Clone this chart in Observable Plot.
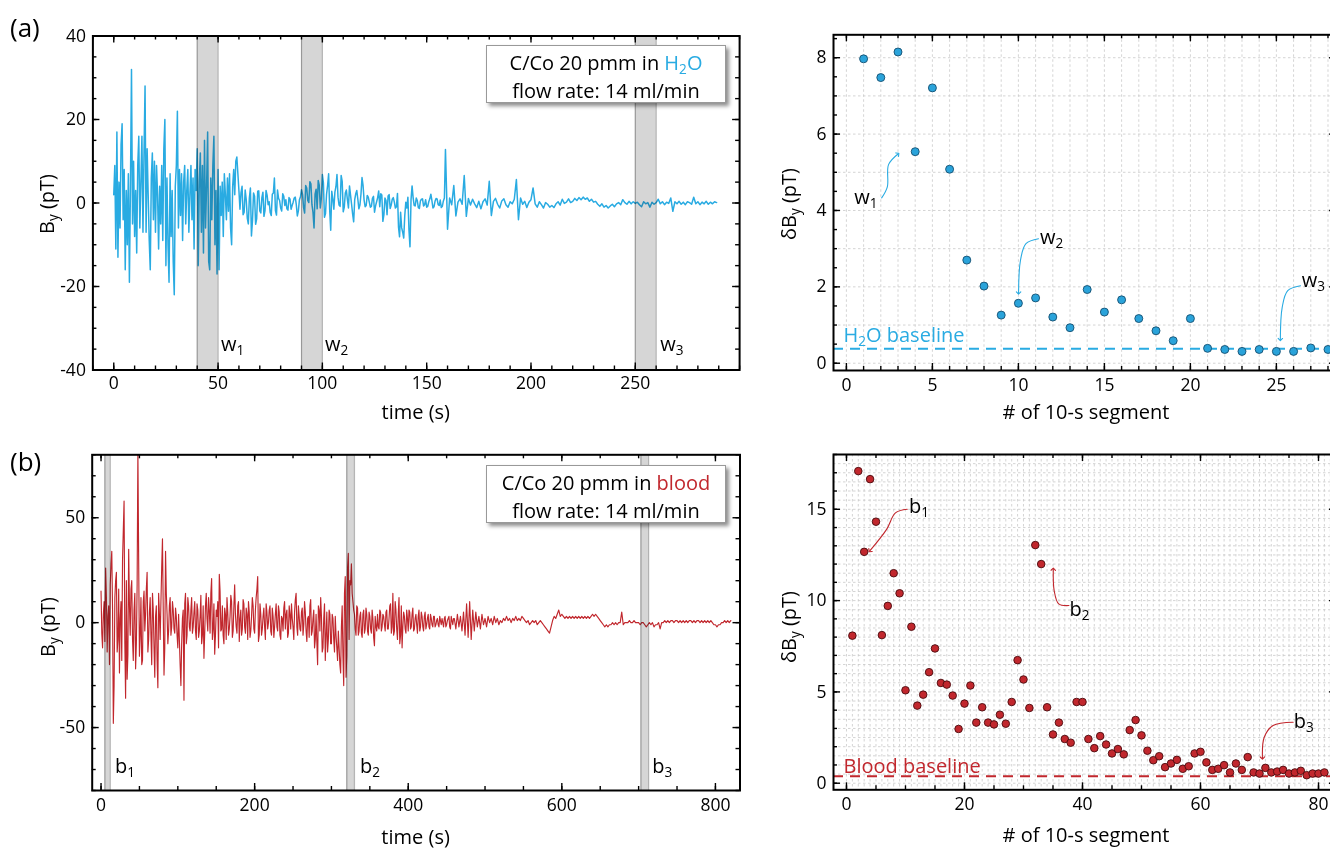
<!DOCTYPE html>
<html><head><meta charset="utf-8">
<script src="https://cdn.jsdelivr.net/npm/d3@7"></script>
<script src="https://cdn.jsdelivr.net/npm/@observablehq/plot@0.6"></script>
<style>
html,body{margin:0;padding:0;background:#fff;overflow:hidden;}
#root{position:relative;width:1330px;height:848px;overflow:hidden;font-family:"Open Sans",sans-serif;color:#000;}
.abs{position:absolute;white-space:nowrap;}
sub{font-size:0.68em;vertical-align:-0.3em;line-height:0;}
.legend{position:absolute;background:#fff;border:1px solid #999;box-shadow:3px 3px 4px rgba(0,0,0,0.45);text-align:center;font-size:20px;box-sizing:border-box;}
</style></head><body>
<div id="root"></div>
<script>
// ---------------- DATA ----------------
// (a) H2O time series: 0–60 s sampled every 0.5 s (pT)
const h2oEarly = [
  2, 9, -11, 17, -13, 5, -6, 14, 19, -4,
  8, -16, 3, -10, 7, -19, 4, 32, -5, 10,
  -8, 3, -12, 9, 16, -6, 5, 16, -7, 12,
  28, -7, 13, 2, -9, -16, 6, 12, -4, 10,
  -7, 9, 2, -11, 4, -5, 9, -9, 13, 20,
  -15, 6, -10, -19, 7, -8, 3, -14, -22, 4,
  9, 22, -6, 8, -3, 7, -9, 5, 9, -5,
  3, 8, -7, 2, 9, -4, 6, -11, 8, 3,
  13, -15, 5, 12, -7, 9, -12, 15, -6, 4,
  17, -14, -16, 6, -4, 9, 16, -10, 3, -17,
  8, -16, 4, -3, 5, -8, 7, 2, -4, 6,
  -2, 7, -6, -10, 4, 8, 2, 10, 11, 7,
  3
];
// (a) H2O time series: whole seconds 61–289 s (pT)
const h2oLate = [
  2.5, -2.8, 3.1, -3.6, 1.2, -7.9, 2.4, -5.1, 2.8, -1.9,
  1.3, -3.2, 3.0, -0.4, -2.3, 2.1, 6.0, -2.9, 1.1, -1.2,
  2.2, -0.6, -1.4, 1.3, -1.5, 0.2, 1.4, -3.1, 0.8, 3.2,
  -1.1, 4.2, 0.6, 5.1, -0.4, -6.0, 3.3, 5.4, -1.2, 6.8,
  -3.4, 2.1, 7.0, -6.5, 1.0, 2.6, 6.8, -0.5, 6.6, -2.1,
  2.4, 0.8, 4.1, -0.3, -4.5, 2.2, 0.9, -0.5, 6.1, 0.7,
  -0.6, 1.4, -1.0, 1.1, -2.2, 0.3, 2.9, 2.2, -4.4, 1.2,
  -2.8, 2.0, -0.5, 1.3, -1.2, 2.3, -8.1, -5.9, -8.4, 0.2,
  1.4, -10.5, 4.1, -0.6, 1.2, -1.1, 0.5, 1.0, -0.4, -1.0,
  0.3, 2.1, -1.2, 0.4, 1.0, -0.6, -1.1, 0.5, 12.8, -6.3,
  1.2, -0.4, 4.2, -3.1, 0.2, 1.0, -0.3, 6.6, -3.2, 1.1,
  -0.5, 0.9, -0.2, -1.1, 0.4, -1.4, 0.3, 1.0, -0.5, 5.2,
  -3.0, 0.4, 1.1, -0.3, -1.2, 0.5, 1.0, -0.4, -1.0, 0.3,
  -0.2, 0.9, 5.6, -4.0, 1.2, -0.3, 0.4, -1.1, 0.2, 0.8,
  3.6, -0.2, -1.0, 0.3, -0.4, -1.2, 0.1, -0.3, -1.0, -0.6,
  -1.1, -0.2, 0.3, -0.5, 0.9, -0.1, 0.2, 1.0, 0.1, 0.4,
  1.1, 0.6, 1.3, 0.8, 1.4, 0.9, 1.2, 0.4, 0.9, 0.2,
  0.4, -0.3, -0.8, -0.2, -1.0, -0.6, -1.2, -0.7, -0.3, -0.9,
  -0.2, 0.1, -0.4, 0.8, 0.1, -0.3, 0.4, -0.2, 0.3, -0.1,
  0.2, -0.4, -0.9, 0.3, -0.2, 0.1, -1.0, 0.2, -0.3, 0.1,
  0.9, -0.2, 0.3, -0.4, 0.2, -0.1, 1.2, -2.0, 0.3, -0.2,
  0.4, -0.3, 0.2, -0.4, 0.3, 0.1, -0.3, 1.4, -0.2, 0.3,
  -0.4, 0.2, -0.2, 0.4, -0.3, 0.2, -0.2, 0.3, 0.1
];
// (a) H2O time series: half seconds 60.5–159.5 s (pT)
const h2oMid = [
  -1.5, 4.0, -2.2, 0.8, -5.0, 3.6, -4.2, 1.6, -3.8, 2.9,
  -2.4, 2.6, -1.8, 1.9, 0.3, -3.0, 2.4, -1.8, 3.1, 0.6,
  -1.9, 1.6, 0.8, -1.7, 0.9, -0.6, 1.2, -0.4, -1.9, 1.5,
  2.0, -2.4, 3.6, 0.1, 4.6, -2.2, 2.1, -1.4, 4.3, 1.1,
  4.8, -2.5, 4.2, -1.6, 2.8, -1.5, 3.9, 1.4, -0.8, 5.2,
  -1.0, 3.1, -1.2, 1.9, -2.6, 0.8, 3.0, -1.4, 2.1, 4.2,
  -0.9, 1.8, 0.2, -0.8, 1.6, -0.7, 1.3, -0.9, 1.9, -2.8,
  0.6, 1.7, -1.3, 0.9, 0.2, -0.9, -5.8, -2.2, -7.0, -3.0,
  -1.2, -6.4, 0.8, 1.3, -0.7, 0.6, -1.3, 0.9, -0.7, 0.8,
  -0.8, 1.0, 0.6, -0.9, 1.1, -0.4, 0.7, -0.8, 1.2, 3.5
];
const h2oWindows = [[40, 50], [90, 100], [250, 260]];
const h2oWindowNames = ["1", "2", "3"];

// (a) right: δB_y per 10-s segment (pT)
const h2oDelta = [7.97, 7.48, 8.15, 5.54, 7.21, 5.08, 2.70, 2.02, 1.26, 1.57,
  1.71, 1.21, 0.93, 1.93, 1.34, 1.66, 1.17, 0.85, 0.59, 1.17,
  0.39, 0.36, 0.31, 0.36, 0.31, 0.31, 0.40, 0.36];
const h2oBaseline = 0.38;

// (b) blood time series, even seconds 0–820 s (pT)
const bloodValues = [
  15, -12, 10, 26, -14, 8, 18, 34, -48, 12,
  24, -8, -24, 10, 30, 58, -36, -27, 35, -6,
  20, -18, 14, -10, 82, -16, 12, -18, 15, 4,
  24, -8, 12, -20, 6, -26, 8, -31, 4, 10,
  40, -25, 34, 4, -4, 12, -2, 6, -5, 3,
  -12, -8, -30, 2, -37, 14, -6, 8, -4, 12,
  -2, 10, -8, 6, -4, 13, -6, -17, 8, 2,
  12, -5, 21, -3, -15, 6, 10, 23, -4, 8,
  -10, 4, 12, -6, 3, 10, -4, 18, -2, 8,
  -9, 6, -3, 9, -5, 4, 10, -7, 3, 8,
  -5, 12, 22, -6, 4, -3, 7, -8, 5, 0,
  8, -6, 3, -2, 9, -4, 5, -8, 2, 7,
  -3, 6, -5, 4, 9, -2, 5, 14, -6, 3,
  -4, 7, -1, 5, -9, 3, 8, -6, 2, -12,
  4, -20, 6, 12, -14, 2, -18, 5, -8, 4,
  -10, 2, -14, -6, -18, -12, -24, 8, -30, 22,
  -16, 33, 20, 28, 10, 4, -6, 7, -4, 5,
  -7, 6, -3, 4, -6, 3, -5, 2, -11, -2,
  4, -3, 5, -2, 3, -4, 6, -3, 8, -5,
  14, -4, 6, -8, 12, -6, -12, 5, -3, 6,
  -4, 5, -2, 7, -3, 4, -5, 6, -2, 3,
  -4, 5, -1, 4, -3, 2, -2, 3, -1, 2,
  -2, 1, 2, -2, 3, -1, 2, -2, 3, -1,
  2, -3, 4, -2, 3, -4, 5, -6, 9, -7,
  10, -8, 6, -4, 5, -2, 3, -3, 4, -1,
  2, -2, 3, 0, 2, -1, 3, 0, 2, -1,
  1, 0, 2, 1, 3, 1, 2, 0, 2, 1,
  3, 1, 2, 1, 3, 2, 1, 0, 1, -1,
  0, 1, 0, 1, -1, 0, 1, 0, -1, -2,
  -3, -4, -5, -2, 1, 3, 2, 4, 6, 3,
  4, 3, 2, 3, 2, 3, 2, 3, 2, 3,
  2, 3, 2, 3, 2, 3, 2, 3, 2, 3,
  4, 3, 4, 3, 2, 1, 0, -1, -2, -1,
  -2, -1, -1, 0, -1, 0, -1, 0, 0, 5,
  -1, 0, 0, 0, 1, 0, 0, 1, 0, 0,
  0, -1, 0, 0, -1, -2, -1, 0, -1, 0,
  -2, -1, -1, 0, -3, 0, 0, 1, 0, 1,
  0, 1, 1, 0, 1, 1, 0, 1, 0, 1,
  0, 1, 0, 1, 1, 0, 1, 0, 1, 1,
  0, 1, 0, 1, 0, 1, 0, 1, 0, -1,
  -1, -2, -1, -1, 0, 0, 1, 0, 1, 0,
  1
];
// (b) blood time series, odd seconds 1–459 s (pT)
const bloodOdd = [
  -5, 4, -9, 12, 3, -20, 28, 6, -30, 20,
  -14, 16, 2, -18, 44, -10, 20, -15, 8, 16,
  -8, 6, -22, 18, 30, -6, -20, 10, -4, 16,
  -14, 5, -6, 14, -12, 3, -18, 14, -8, 26,
  6, -12, 14, -10, 8, -6, 10, -3, 7, -6,
  4, -20, -10, 6, 9, -10, 12, -2, 6, -5,
  5, -4, 9, -7, 3, -10, 8, -5, 14, -4,
  6, 14, -8, 9, -6, 3, -12, 15, -3, -6,
  7, -8, 5, -3, 13, -7, 8, 4, -5, 10,
  2, -6, 11, -2, 7, -8, 5, -4, 12, -3,
  6, 16, -9, 9, -6, 3, -2, 9, -3, 6,
  -4, 7, -7, 4, -2, 8, -6, 3, -4, 10,
  4, -7, 8, -3, 2, -8, 11, -2, 8, -3,
  5, -6, 10, -4, 2, -7, 11, -4, 6, -8,
  -9, 8, -4, 3, -12, 9, -6, -14, 6, -10,
  4, -8, 3, -12, -4, -20, -2, -16, 14, -26,
  26, -8, 18, 14, 6, -3, 8, -6, 3, -5,
  4, -5, 7, -4, 5, -3, 6, -7, 3, -4,
  -2, 6, -4, 4, -1, 5, -3, 2, 9, -2,
  -6, 10, -3, 4, -10, 8, -2, 3, -5, 2,
  6, -3, 4, -4, 2, -1, 3, -4, 5, -2,
  3, -3, 2, -2, 4, -1, 3, -2, 1, -1,
  3, -1, 0, 2, -2, 1, 3, -3, 1, 2
];
const bloodWindows = [[5, 12], [320, 330], [703, 713]];
const bloodWindowNames = ["1", "2", "3"];

// (b) right: δB_y per 10-s segment (pT)
const bloodDelta = [8.08, 17.09, 12.67, 16.65, 14.32, 8.11, 9.71, 11.50, 10.40, 5.09,
  8.57, 4.25, 4.85, 6.08, 7.38, 5.49, 5.40, 4.80, 2.97, 4.36,
  5.35, 3.32, 4.16, 3.32, 3.22, 3.75, 3.26, 4.45, 6.74, 5.68,
  4.12, 13.04, 12.00, 4.16, 2.67, 3.32, 2.42, 2.22, 4.45, 4.45,
  2.42, 1.92, 2.58, 2.12, 1.63, 1.87, 1.58, 2.91, 3.46, 2.62,
  1.78, 1.26, 1.48, 0.88, 1.08, 1.28, 0.79, 0.93, 1.63, 1.72,
  1.14, 0.73, 0.79, 0.99, 0.59, 1.08, 0.73, 1.43, 0.59, 0.53,
  0.84, 0.59, 0.64, 0.73, 0.53, 0.59, 0.68, 0.44, 0.53, 0.53, 0.59];
const bloodBaseline = 0.38;

// annotations (data units)
const h2oLabelPos = {t: [51.7, 101.5, 262.2], v: -35.8};
const bloodLabelPos = {t: [18.9, 337.8, 718.5], v: -72.1};
const h2oArrows = [
  {name: "1", label: [0.49, 4.13], path: [[2.05, 4.33], [2.38, 4.62], [2.45, 5.2], [3.0, 5.48]]},
  {name: "2", label: [11.28, 3.08], path: [[11.17, 3.26], [10.44, 3.13], [10.12, 2.69], [10.01, 1.84]]},
  {name: "3", label: [26.5, 1.97], path: [[26.4, 2.03], [25.66, 1.9], [25.34, 1.47], [25.23, 0.62]]}
];
const bloodArrows = [
  {name: "1", label: [10.68, 14.75], path: [[10.3, 15.0], [8.3, 14.8], [6.8, 13.9], [3.95, 12.72]]},
  {name: "2", label: [37.9, 9.09], path: [[37.7, 9.73], [35.97, 9.82], [35.2, 10.55], [35.05, 11.72]]},
  {name: "3", label: [75.9, 2.98], path: [[75.7, 3.34], [72.3, 3.16], [70.8, 2.52], [70.5, 1.38]]}
];

// ---------------- DRAW ----------------
const blue = "#29abe2", red = "#c1272d";
const FONT = '"Open Sans", sans-serif';
const root = document.getElementById("root");

const h2oSeries = [
  ...h2oEarly.map((v, i) => ({t: i * 0.5, v})),
  ...h2oMid.map((v, i) => ({t: 60.5 + i, v})),
  ...h2oLate.map((v, i) => ({t: 61 + i, v}))
].sort((a, b) => a.t - b.t);
const bloodSeries = [
  ...bloodValues.map((v, i) => ({t: 2 * i, v})),
  ...bloodOdd.map((v, i) => ({t: 2 * i + 1, v}))
].sort((a, b) => a.t - b.t);
const h2oSeg = h2oDelta.map((v, i) => ({seg: i + 1, v}));
const bloodSeg = bloodDelta.map((v, i) => ({seg: i + 1, v}));

function steps(a, b, s) { const out = []; const n = Math.round((b - a) / s); for (let i = 0; i <= n; i++) out.push(+(a + i * s).toFixed(6)); return out; }

function addHTML(html, left, top, style = "") {
  const d = document.createElement("div");
  d.className = "abs";
  d.style.cssText = `left:${left}px;top:${top}px;${style}`;
  d.innerHTML = html;
  root.appendChild(d);
  return d;
}

function panel(cfg) {
  const {left, top, width, height, ml, mt, mr, mb, xDomain, yDomain, xMajor, xMinor, yMajor, yMinor, grid, marks, xPad} = cfg;
  const iw = width - ml - mr, ih = height - mt - mb;
  const inX = v => v >= xDomain[0] - 1e-9 && v <= xDomain[1] + 1e-9;
  const inY = v => v >= yDomain[0] - 1e-9 && v <= yDomain[1] + 1e-9;
  const xMaj = xMajor.filter(inX), xMin = xMinor.filter(inX), yMaj = yMajor.filter(inY), yMin = yMinor.filter(inY);
  const tk = {stroke: "black", strokeWidth: 1.4};
  const all = [];
  if (grid) {
    all.push(Plot.gridX(grid.x.filter(inX), {stroke: "#c9c9c9", strokeOpacity: 1, strokeDasharray: "2.5,2.5", strokeWidth: 0.8}));
    all.push(Plot.gridY(grid.y.filter(inY), {stroke: "#c9c9c9", strokeOpacity: 1, strokeDasharray: "2.5,2.5", strokeWidth: 0.8}));
  }
  all.push(...marks);
  all.push(
    Plot.tickX(xMin, {x: d => d, insetTop: ih - 4, ...tk}),
    Plot.tickX(xMaj, {x: d => d, insetTop: ih - 7, ...tk}),
    Plot.tickX(xMin, {x: d => d, insetBottom: ih - 4, ...tk}),
    Plot.tickX(xMaj, {x: d => d, insetBottom: ih - 7, ...tk}),
    Plot.tickY(yMin, {y: d => d, insetRight: iw - 4, ...tk}),
    Plot.tickY(yMaj, {y: d => d, insetRight: iw - 7, ...tk}),
    Plot.tickY(yMin, {y: d => d, insetLeft: iw - 4, ...tk}),
    Plot.tickY(yMaj, {y: d => d, insetLeft: iw - 7, ...tk}),
    Plot.axisX(xMaj, {tickSize: 0, tickPadding: xPad, tickFormat: d => String(d), label: null}),
    Plot.axisY(yMaj, {tickSize: 0, tickPadding: 7, tickFormat: d => String(d), label: null}),
    Plot.frame({stroke: "black", strokeWidth: 2})
  );
  const svg = Plot.plot({
    width, height, marginLeft: ml, marginTop: mt, marginRight: mr, marginBottom: mb,
    x: {domain: xDomain}, y: {domain: yDomain},
    style: {fontFamily: FONT, fontSize: "17.5px", color: "#000", background: "none", overflow: "visible", maxWidth: "none"},
    marks: all
  });
  const wrap = document.createElement("div");
  wrap.style.cssText = `position:absolute;left:${left}px;top:${top}px;width:${width}px;height:${height}px;`;
  wrap.appendChild(svg);
  root.appendChild(wrap);
  const sx = svg.scale("x"), sy = svg.scale("y");
  return {
    px: v => left + sx.apply(v), py: v => top + sy.apply(v),
    frameLeft: left + ml, frameRight: left + width - mr, frameTop: top + mt, frameBottom: top + height - mb
  };
}

function bandMarks(win) {
  return [
    Plot.rect(win, {x1: d => d[0], x2: d => d[1], fill: "#d6d6d6", mixBlendMode: "multiply"}),
    Plot.ruleX(win.flat(), {stroke: "#b5b5b5", strokeWidth: 1.2, mixBlendMode: "multiply"})
  ];
}

function arrowMarks(arrows, color) {
  return arrows.map(a => Plot.line(a.path, {x: d => d[0], y: d => d[1], curve: "catmull-rom", stroke: color, strokeWidth: 1.1, markerEnd: "arrow"}));
}

// (a) left
const pA = panel({
  left: 0, top: 0, width: 750, height: 420, ml: 92.4, mt: 35.5, mr: 10.9, mb: 50.5, xPad: 7,
  xDomain: [-10, 300], yDomain: [-40, 40],
  xMajor: steps(0, 250, 50), xMinor: steps(-10, 300, 10), yMajor: steps(-40, 40, 20), yMinor: steps(-40, 40, 5),
  marks: [Plot.line(h2oSeries, {x: "t", y: "v", stroke: blue, strokeWidth: 1.5, clip: true}), ...bandMarks(h2oWindows)]
});
// (a) right
const pB = panel({
  left: 760, top: 0, width: 586.1, height: 420, ml: 73, mt: 34.3, mr: 10, mb: 50, xPad: 8,
  xDomain: [-0.75, 28.5], yDomain: [-0.19, 8.6],
  xMajor: steps(0, 25, 5), xMinor: steps(0, 28, 1), yMajor: steps(0, 8, 2), yMinor: steps(0, 8.5, 0.5),
  grid: {x: steps(0, 28, 1), y: steps(0, 8, 1)},
  marks: [
    Plot.ruleY([h2oBaseline], {stroke: blue, strokeWidth: 2, strokeDasharray: "10,7"}),
    ...arrowMarks(h2oArrows, blue),
    Plot.dot(h2oSeg, {x: "seg", y: "v", r: 4, fill: "#2aa3da", stroke: "#154f70", strokeWidth: 0.9})
  ]
});
// (b) left
const pC = panel({
  left: 0, top: 420, width: 750, height: 428, ml: 91.7, mt: 34.3, mr: 10.5, mb: 58, xPad: 8,
  xDomain: [-11.5, 832], yDomain: [-80, 80],
  xMajor: steps(0, 800, 200), xMinor: steps(0, 800, 50), yMajor: steps(-50, 50, 50), yMinor: steps(-80, 80, 10),
  marks: [Plot.line(bloodSeries, {x: "t", y: "v", stroke: red, strokeWidth: 1.15, clip: true}), ...bandMarks(bloodWindows)]
});
// (b) right
const pD = panel({
  left: 760, top: 420, width: 586, height: 428, ml: 73, mt: 34, mr: 10, mb: 58.7, xPad: 8,
  xDomain: [-2.2, 83.05], yDomain: [-0.36, 18],
  xMajor: steps(0, 80, 20), xMinor: steps(0, 80, 5), yMajor: steps(0, 15, 5), yMinor: steps(0, 18, 1),
  grid: {x: steps(0, 83, 1), y: steps(0, 18, 0.5)},
  marks: [
    Plot.ruleY([bloodBaseline], {stroke: red, strokeWidth: 2, strokeDasharray: "10,7"}),
    ...arrowMarks(bloodArrows, red),
    Plot.dot(bloodSeg, {x: "seg", y: "v", r: 3.8, fill: red, stroke: "#4a0b0e", strokeWidth: 0.9})
  ]
});

// ---------- text overlays ----------
const FS = 20;
function labelAt(html, x, yBase, color = "#000", fs = FS) {
  addHTML(html, x, yBase - 0.89 * fs - 2, `font-size:${fs}px;line-height:${fs + 4}px;color:${color};`);
}
h2oWindowNames.forEach((n, i) => labelAt(`w<sub>${n}</sub>`, pA.px(h2oLabelPos.t[i]), pA.py(h2oLabelPos.v)));
bloodWindowNames.forEach((n, i) => labelAt(`b<sub>${n}</sub>`, pC.px(bloodLabelPos.t[i]), pC.py(bloodLabelPos.v)));
h2oArrows.forEach(a => labelAt(`w<sub>${a.name}</sub>`, pB.px(a.label[0]), pB.py(a.label[1])));
bloodArrows.forEach(a => labelAt(`b<sub>${a.name}</sub>`, pD.px(a.label[0]), pD.py(a.label[1])));
labelAt(`H<sub>2</sub>O baseline`, pB.px(-0.14), pB.py(0.51), blue);
labelAt(`Blood baseline`, pD.px(-0.41), pD.py(0.51), red);

function yTitle(html, cx, cy) {
  addHTML(html, cx, cy, `font-size:20px;transform:translate(-50%,-50%) rotate(-90deg);`);
}
function xTitle(html, cx, cy) {
  addHTML(html, cx, cy, `font-size:20px;transform:translate(-50%,-50%);`);
}
yTitle(`B<sub>y</sub> (pT)`, pA.frameLeft - 46, 204);
yTitle(`δB<sub>y</sub> (pT)`, pB.frameLeft - 45, 204);
yTitle(`B<sub>y</sub> (pT)`, pC.frameLeft - 45, 627);
yTitle(`δB<sub>y</sub> (pT)`, pD.frameLeft - 45, 627);
xTitle(`time (s)`, (pA.frameLeft + pA.frameRight) / 2, pA.frameBottom + 41);
xTitle(`# of 10-s segment`, 1086, pB.frameBottom + 41);
xTitle(`time (s)`, (pC.frameLeft + pC.frameRight) / 2, pC.frameBottom + 46);
xTitle(`# of 10-s segment`, 1086, pD.frameBottom + 45);

addHTML(`(a)`, 10, 12, `font-size:26px;line-height:30px;`);
addHTML(`(b)`, 10, 446, `font-size:26px;line-height:30px;`);

function legend(html, left, top, w, h) {
  const d = document.createElement("div");
  d.className = "legend";
  d.style.cssText = `left:${left}px;top:${top}px;width:${w}px;height:${h}px;padding-top:3px;line-height:28px;`;
  d.innerHTML = html;
  root.appendChild(d);
}
legend(`<div>C/Co 20 pmm in <span style="color:${blue}">H<sub>2</sub>O</span></div><div>flow rate: 14 ml/min</div>`, 486, 45, 240, 58);
legend(`<div>C/Co 20 pmm in <span style="color:${red}">blood</span></div><div>flow rate: 14 ml/min</div>`, 486, 465, 240, 58);
</script>
</body></html>
